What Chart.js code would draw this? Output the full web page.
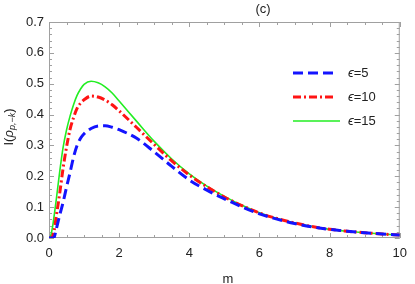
<!DOCTYPE html>
<html>
<head>
<meta charset="utf-8">
<script src="https://cdn.jsdelivr.net/npm/chart.js@4/dist/chart.umd.min.js"></script>
<style>
  html, body { margin: 0; padding: 0; background: #fff; }
  #wrap { width: 415px; height: 284px; }
</style>
</head>
<body>
<div id="wrap"><canvas id="c" width="415" height="284"></canvas></div>
<script>
// values
const mValues = [0, 0.05, 0.1, 0.15, 0.2, 0.3, 0.4, 0.5, 0.6, 0.7, 0.8, 0.9, 1.0, 1.2, 1.4, 1.6, 1.8, 2.0, 2.5, 3.0, 3.5, 4.0, 4.5, 5.0, 5.5, 6.0, 6.5, 7.0, 7.5, 8.0, 8.5, 9.0, 9.5, 10];
const eps5  = [0, 0, 0, 0.003, 0.025, 0.072, 0.115, 0.165, 0.212, 0.262, 0.3, 0.323, 0.338, 0.355, 0.363, 0.364, 0.359, 0.351, 0.323, 0.279, 0.232, 0.188, 0.155, 0.127, 0.101, 0.078, 0.061, 0.047, 0.036, 0.028, 0.022, 0.017, 0.013, 0.0095];
const eps10 = [0, 0, 0.005, 0.026, 0.065, 0.14, 0.225, 0.295, 0.352, 0.39, 0.42, 0.437, 0.448, 0.46, 0.457, 0.447, 0.432, 0.412, 0.358, 0.303, 0.25, 0.204, 0.166, 0.133, 0.105, 0.081, 0.063, 0.049, 0.037, 0.028, 0.022, 0.017, 0.013, 0.0095];
const eps15 = [0, 0.008, 0.035, 0.075, 0.118, 0.21, 0.292, 0.35, 0.395, 0.432, 0.462, 0.483, 0.498, 0.508, 0.503, 0.49, 0.47, 0.444, 0.378, 0.313, 0.256, 0.208, 0.168, 0.135, 0.106, 0.082, 0.063, 0.049, 0.037, 0.028, 0.022, 0.017, 0.013, 0.0095];
const legendLabels = ['5', '10', '15'];
const xTicks = [0, 2, 4, 6, 8, 10];
const yTicks = [0, 0.1, 0.2, 0.3, 0.4, 0.5, 0.6, 0.7];

const FONT = '"Liberation Sans", Arial, sans-serif';

function pts(vals) {
  return mValues.map((m, i) => ({ x: m, y: vals[i] }));
}

// frame with inward ticks like the original plot
const framePlugin = {
  id: 'frame',
  beforeDatasetsDraw(chart) {
    const { ctx, chartArea: a, scales: { x, y } } = chart;
    ctx.save();
    ctx.strokeStyle = '#a0a0a0';
    ctx.lineWidth = 1;
    ctx.strokeRect(a.left + 0.5, a.top + 0.5, a.right - a.left - 1, a.bottom - a.top - 1);
    ctx.beginPath();
    for (let i = 0; i <= 20; i++) {
      const v = i * 0.5;
      const px = Math.round(x.getPixelForValue(v)) + 0.5;
      const len = (i % 4 === 0) ? 5 : 3;
      ctx.moveTo(px, a.bottom); ctx.lineTo(px, a.bottom - len);
      ctx.moveTo(px, a.top); ctx.lineTo(px, a.top + len);
    }
    for (let i = 0; i <= 35; i++) {
      const v = i * 0.02;
      const py = Math.round(y.getPixelForValue(v)) + 0.5;
      const len = (i % 5 === 0) ? 5 : 3;
      ctx.moveTo(a.left, py); ctx.lineTo(a.left + len, py);
      ctx.moveTo(a.right, py); ctx.lineTo(a.right - len, py);
    }
    ctx.stroke();
    ctx.restore();
  },
  afterDraw(chart) {
    const { ctx } = chart;
    ctx.save();
    ctx.fillStyle = '#222';
    ctx.textBaseline = 'middle';
    // title
    ctx.font = '13px ' + FONT;
    ctx.textAlign = 'center';
    ctx.fillText('(c)', 263, 9);
    // x title
    ctx.fillText('m', 228, 279);
    // y title, rotated
    ctx.translate(9, 127);
    ctx.rotate(-Math.PI / 2);
    ctx.textAlign = 'left';
    const parts = [
      ['13px ' + FONT, 'I(', 0],
      ['italic 13px ' + FONT, 'ρ', 0],
      ['italic 9px ' + FONT, 'p,−k', 3],
      ['13px ' + FONT, ')', 0]
    ];
    let w = 0;
    parts.forEach(p => { ctx.font = p[0]; w += ctx.measureText(p[1]).width; });
    let cx = -w / 2;
    parts.forEach(p => { ctx.font = p[0]; ctx.fillText(p[1], cx, p[2]); cx += ctx.measureText(p[1]).width; });
    ctx.restore();

    // legend
    ctx.save();
    const rows = [73, 97, 121];
    chart.data.datasets.forEach((ds, i) => {
      const yy = rows[i];
      ctx.strokeStyle = ds.borderColor;
      ctx.lineWidth = ds.borderWidth;
      ctx.setLineDash(ds.borderDash || []);
      ctx.beginPath();
      ctx.moveTo(293, yy); ctx.lineTo(i === 2 ? 340 : 336, yy);
      ctx.stroke();
      ctx.setLineDash([]);
      ctx.fillStyle = '#222';
      ctx.textBaseline = 'middle';
      ctx.textAlign = 'left';
      ctx.font = 'italic 13px ' + FONT;
      ctx.fillText('ϵ', 348, yy);
      const ew = ctx.measureText('ϵ').width;
      ctx.font = '13px ' + FONT;
      ctx.fillText('=' + legendLabels[i], 348 + ew, yy);
    });
    ctx.restore();
  }
};

new Chart(document.getElementById('c'), {
  type: 'line',
  data: {
    datasets: [
      { label: 'ϵ=' + legendLabels[0], data: pts(eps5), borderColor: '#1414ff', borderWidth: 3, borderDash: [10, 5] },
      { label: 'ϵ=' + legendLabels[1], data: pts(eps10), borderColor: '#ff1414', borderWidth: 3, borderDash: [8, 3, 2, 3] },
      { label: 'ϵ=' + legendLabels[2], data: pts(eps15), borderColor: '#22ee22', borderWidth: 1.6 }
    ]
  },
  options: {
    responsive: false,
    animation: false,
    events: [],
    elements: { point: { radius: 0 }, line: { cubicInterpolationMode: 'monotone', fill: false } },
    layout: { padding: { left: 0, top: 22, right: 8, bottom: 0 } },
    plugins: { legend: { display: false }, tooltip: { enabled: false } },
    scales: {
      x: {
        type: 'linear', min: 0, max: 10,
        afterBuildTicks: s => { s.ticks = xTicks.map(v => ({ value: v })); },
        afterFit: s => { s.height = 46; },
        grid: { display: false, drawTicks: false },
        border: { display: false },
        ticks: { color: '#222', font: { family: FONT, size: 13 }, padding: 8, maxRotation: 0 }
      },
      y: {
        type: 'linear', min: 0, max: 0.7,
        afterBuildTicks: s => { s.ticks = yTicks.map(v => ({ value: v })); },
        afterFit: s => { s.width = 49; },
        grid: { display: false, drawTicks: false },
        border: { display: false },
        ticks: { color: '#222', font: { family: FONT, size: 13 }, padding: 5, callback: v => v.toFixed(1) }
      }
    }
  },
  plugins: [framePlugin]
});
</script>
</body>
</html>
